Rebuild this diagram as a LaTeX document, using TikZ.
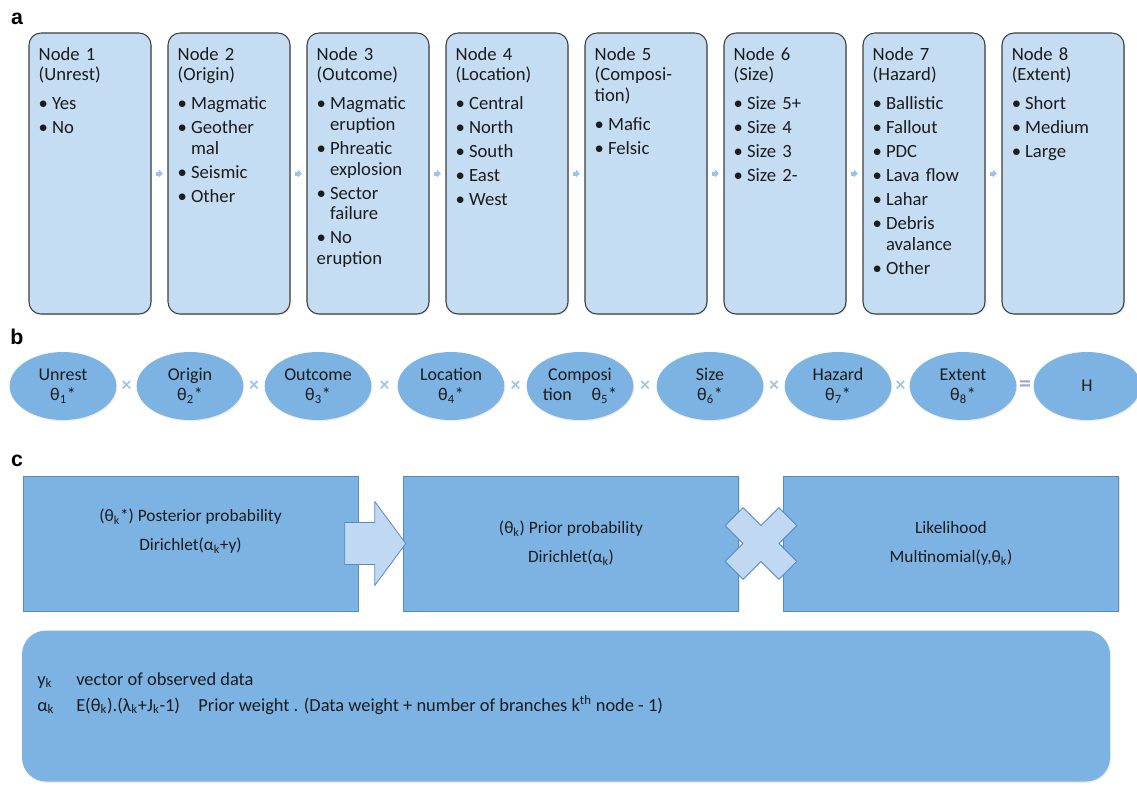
\documentclass[tikz,border=0pt]{standalone}
\usepackage{fontspec}
\setmainfont{Carlito}
\newfontfamily\labelfont{Liberation Sans}
\usetikzlibrary{positioning,shapes.geometric,shadows,calc,arrows.meta}

\definecolor{palefill}{RGB}{197,221,243}
\definecolor{boxline}{RGB}{62,62,62}
\definecolor{midblue}{RGB}{124,179,227}
\definecolor{edgeblue}{RGB}{86,138,194}
\definecolor{lightblue}{RGB}{192,216,241}
\definecolor{linkblue}{RGB}{158,194,234}
\definecolor{eqgray}{RGB}{150,170,202}
\definecolor{txt}{RGB}{28,28,28}

\setlength\parindent{0pt}
% bullet item with hanging indent
\newcommand\itm[1]{\par\vspace{2.6pt}\hangindent=10pt\hangafter=1\noindent\makebox[10pt][l]{\textbullet}#1}

\tikzset{
  panel/.style={font=\labelfont\bfseries\fontsize{16}{16}\selectfont},
  nodebox/.style={draw=boxline, line width=0.8pt, fill=palefill, rounded corners=9pt,
    minimum width=91.5pt, minimum height=210.75pt,
    drop shadow={opacity=0.18, shadow xshift=0.8pt, shadow yshift=-1pt}},
  boxtext/.style={anchor=north west, inner sep=0pt, text width=84pt, align=left,
    text=txt, font=\fontsize{14}{15.4}\selectfont},
  linkarrow/.style={draw=linkblue, line width=3pt, -{Triangle[length=3pt,width=6pt]},
    shorten <=3.5pt, shorten >=3.5pt},
  stage/.style={ellipse, fill=midblue, minimum width=80pt, minimum height=51pt,
    inner sep=0pt, align=center, text=txt, font=\fontsize{13.5}{15}\selectfont,
    drop shadow={opacity=0.15, shadow xshift=0.6pt, shadow yshift=-1pt}},
  opmark/.style={text=linkblue, font=\bfseries\fontsize{15}{15}\selectfont, inner sep=0pt},
  eqmark/.style={text=eqgray, font=\bfseries\fontsize{18}{18}\selectfont, inner sep=0pt},
  cbox/.style={draw=edgeblue, line width=0.5pt, fill=midblue,
    minimum width=251.25pt, minimum height=101.25pt,
    drop shadow={opacity=0.18, shadow xshift=0.8pt, shadow yshift=-1pt}},
  ctext/.style={align=center, text=txt, font=\fontsize{13}{21.75}\selectfont},
  bigarrow/.style={draw=edgeblue, line width=0.6pt, fill=lightblue, line join=round},
  notebox/.style={fill=midblue, rounded corners=18pt, minimum width=816pt, minimum height=113.25pt,
    drop shadow={opacity=0.15, shadow xshift=0.8pt, shadow yshift=-1pt}},
  notetext/.style={anchor=base west, inner sep=0pt, text=txt, font=\fontsize{13.8}{15}\selectfont}
}

\begin{document}
\begin{tikzpicture}[x=0.75pt, y=-0.75pt]
\useasboundingbox (0,0) rectangle (1137,785);

% panel letters
\node[panel] (la) at (17,19) {a};
\node[panel] (lb) at (17,337) {b};
\node[panel] (lc) at (17,461) {c};

% a: the eight nodes of the tree
\node[nodebox] (b1) at (90,173.5) {};
\node[nodebox] (b2) at (229,173.5) {};
\node[nodebox] (b3) at (368,173.5) {};
\node[nodebox] (b4) at (507,173.5) {};
\node[nodebox] (b5) at (646,173.5) {};
\node[nodebox] (b6) at (785,173.5) {};
\node[nodebox] (b7) at (924,173.5) {};
\node[nodebox] (b8) at (1063,173.5) {};

\node[boxtext] (bt1) at ([xshift=7.5pt,yshift=-11pt]b1.north west)
  {Node 1\\(Unrest)\par\vspace{3.8pt}\itm{Yes}\itm{No}};
\node[boxtext] (bt2) at ([xshift=7.5pt,yshift=-11pt]b2.north west)
  {Node 2\\(Origin)\par\vspace{3.8pt}\itm{Magmatic}\itm{Geother\newline mal}\itm{Seismic}\itm{Other}};
\node[boxtext] (bt3) at ([xshift=7.5pt,yshift=-11pt]b3.north west)
  {Node 3\\(Outcome)\par\vspace{3.8pt}\itm{Magmatic\newline eruption}\itm{Phreatic\newline explosion}\itm{Sector\newline failure}\itm{No\newline eruption}};
\node[boxtext] (bt4) at ([xshift=7.5pt,yshift=-11pt]b4.north west)
  {Node 4\\(Location)\par\vspace{3.8pt}\itm{Central}\itm{North}\itm{South}\itm{East}\itm{West}};
\node[boxtext] (bt5) at ([xshift=7.5pt,yshift=-11pt]b5.north west)
  {Node 5\\(Composi-\\tion)\par\vspace{3.8pt}\itm{Mafic}\itm{Felsic}};
\node[boxtext] (bt6) at ([xshift=7.5pt,yshift=-11pt]b6.north west)
  {Node 6\\(Size)\par\vspace{3.8pt}\itm{Size 5+}\itm{Size 4}\itm{Size 3}\itm{Size 2-}};
\node[boxtext] (bt7) at ([xshift=7.5pt,yshift=-11pt]b7.north west)
  {Node 7\\(Hazard)\par\vspace{3.8pt}\itm{Ballistic}\itm{Fallout}\itm{PDC}\itm{Lava flow}\itm{Lahar}\itm{Debris\newline avalance}\itm{Other}};
\node[boxtext] (bt8) at ([xshift=7.5pt,yshift=-11pt]b8.north west)
  {Node 8\\(Extent)\par\vspace{3.8pt}\itm{Short}\itm{Medium}\itm{Large}};

\foreach \a/\b in {b1/b2,b2/b3,b3/b4,b4/b5,b5/b6,b6/b7,b7/b8}
  \draw[linkarrow] (\a.east) -- (\b.west);

% b: product of the posteriors
\node[stage] (u1) at (63,386) {Unrest\\θ\textsubscript{1}*};
\node[stage] (u2) at (190,386) {Origin\\θ\textsubscript{2}*};
\node[stage] (u3) at (318,386) {Outcome\\θ\textsubscript{3}*};
\node[stage] (u4) at (451,386) {Location\\θ\textsubscript{4}*};
\node[stage] (u5) at (580,386) {Composi\\tion\hspace{1.1em}θ\textsubscript{5}*};
\node[stage] (u6) at (710,386) {Size\\θ\textsubscript{6}*};
\node[stage] (u7) at (838,386) {Hazard\\θ\textsubscript{7}*};
\node[stage] (u8) at (963,386) {Extent\\θ\textsubscript{8}*};
\node[stage] (hz) at (1087,386) {H};

\foreach \a/\b in {u1/u2,u2/u3,u3/u4,u4/u5,u5/u6,u6/u7,u7/u8}
  \path (\a) -- node[opmark] {×} (\b);
\path (u8) -- node[eqmark] {=} (hz);

% c: Bayesian update
\node[cbox] (c1) at (190.5,543.5) {};
\node[cbox] (c2) at (571,543.5) {};
\node[cbox] (c3) at (951,543.5) {};

\node[ctext] (t1) at ([yshift=9pt]c1.center)
  {(θ\textsubscript{k}*) Posterior probability\\Dirichlet(α\textsubscript{k}+y)};
\node[ctext] (t2) at (c2.center)
  {(θ\textsubscript{k}) Prior probability\\Dirichlet(α\textsubscript{k})};
\node[ctext] (t3) at (c3.center)
  {Likelihood\\Multinomial(y,θ\textsubscript{k})};

\coordinate (m1) at ($(c1.east)!0.5!(c2.west)$);
\coordinate (m2) at ($(c2.east)!0.5!(c3.west)$);
\begin{scope}[shift={(m1)}]
  \draw[bigarrow] (-36,-21) -- (-6,-21) -- (-6,-42) -- (25,0) -- (-6,42) -- (-6,21) -- (-36,21) -- cycle;
\end{scope}
\begin{scope}[shift={(m2)}, rotate=45]
  \draw[bigarrow] (38,12.7) -- (12.7,12.7) -- (12.7,38) -- (-12.7,38) -- (-12.7,12.7) -- (-38,12.7)
    -- (-38,-12.7) -- (-12.7,-12.7) -- (-12.7,-38) -- (12.7,-38) -- (12.7,-12.7) -- (38,-12.7) -- cycle;
\end{scope}

% notes
\node[notebox] (notes) at (566,706) {};
\node[notetext] (sy) at (37,685) {y\textsubscript{k}};
\node[notetext] (dy) at (76,685) {vector of observed data};
\node[notetext] (sa) at (37,711) {α\textsubscript{k}};
\node[notetext] (da) at (76,711)
  {E(θ\textsubscript{k}).(λ\textsubscript{k}+J\textsubscript{k}-1)\quad Prior weight . (Data weight + number of branches k\textsuperscript{th} node - 1)};
\end{tikzpicture}
\end{document}
